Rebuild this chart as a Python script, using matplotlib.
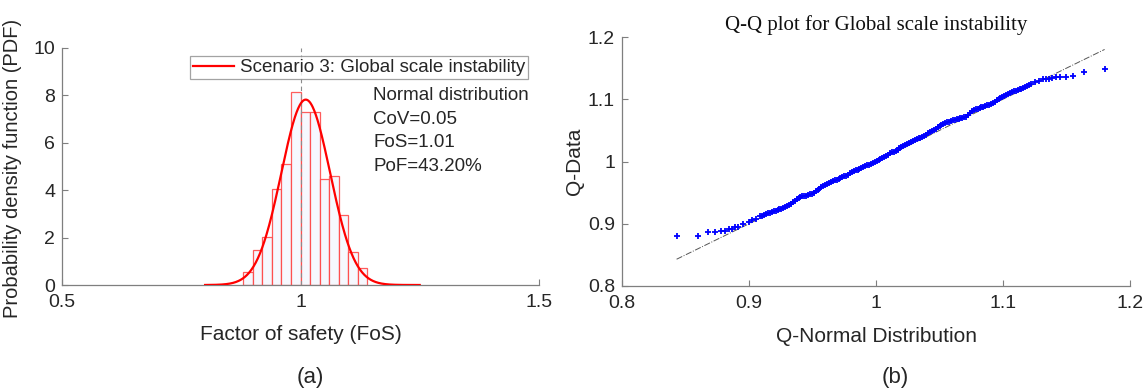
import numpy as np
import matplotlib
matplotlib.use("Agg")
import matplotlib.pyplot as plt

# ---- DATA ----
# (a) histogram of factor of safety, normalised as pdf
bin_edges = [0.88, 0.90, 0.92, 0.94, 0.96, 0.98, 1.00, 1.02, 1.04, 1.06, 1.08, 1.10, 1.12, 1.14]
pdf_values = [0.54, 1.46, 2.01, 4.05, 5.10, 8.13, 7.31, 7.31, 4.46, 4.60, 2.95, 1.41, 0.73]
fit_mean = 1.011          # fitted normal distribution
fit_std = 0.051
fit_range = (0.80, 1.25)
legend_label = "Scenario 3: Global scale instability"
stats_lines = ["Normal distribution", "CoV=0.05", "FoS=1.01", "PoF=43.20%"]

# (b) Q-Q plot: theoretical normal quantile vs data quantile
qq_x = [0.843, 0.8595, 0.8678, 0.8734, 0.8778, 0.8813, 0.8843, 0.887, 0.8893, 0.8914,
        0.8951, 0.8997, 0.9025, 0.9058,
        0.909, 0.9105, 0.912, 0.9135, 0.915, 0.9165, 0.918, 0.9195, 0.921, 0.9225,
        0.924, 0.9255, 0.927, 0.9285, 0.930, 0.9315, 0.933, 0.9345, 0.936, 0.9375,
        0.939, 0.9405, 0.942, 0.9435, 0.945, 0.9465, 0.948, 0.9495, 0.951, 0.9525,
        0.954, 0.9555, 0.957, 0.9585, 0.960, 0.9615, 0.963, 0.9645, 0.966, 0.9675,
        0.969, 0.9705, 0.972, 0.9735, 0.975, 0.9765, 0.978, 0.9795, 0.981, 0.9825,
        0.984, 0.9855, 0.987, 0.9885, 0.990, 0.9915, 0.993, 0.9945, 0.996, 0.9975,
        0.999, 1.0005, 1.002, 1.0035, 1.005, 1.0065, 1.008, 1.0095, 1.011, 1.0125,
        1.014, 1.0155, 1.017, 1.0185, 1.020, 1.0215, 1.023, 1.0245, 1.026, 1.0275,
        1.029, 1.0305, 1.032, 1.0335, 1.035, 1.0365, 1.038, 1.0395, 1.041, 1.0425,
        1.044, 1.0455, 1.047, 1.0485, 1.050, 1.0515, 1.053, 1.0545, 1.056, 1.0575,
        1.059, 1.0605, 1.062, 1.0635, 1.065, 1.0665, 1.068, 1.0695, 1.071, 1.0725,
        1.074, 1.0755, 1.077, 1.0785, 1.080, 1.0815, 1.083, 1.0845, 1.086, 1.0875,
        1.089, 1.0905, 1.092, 1.0935, 1.095, 1.0965, 1.098, 1.0995, 1.101, 1.1025,
        1.104, 1.1055, 1.107, 1.1085, 1.110, 1.1115, 1.113, 1.1145, 1.116, 1.1175,
        1.119, 1.1205, 1.122,
        1.125, 1.128, 1.1316, 1.1337, 1.136, 1.1387, 1.1417, 1.1452, 1.1496,
        1.1552, 1.1635, 1.180]
qq_y = [0.881, 0.881, 0.886, 0.886, 0.888, 0.889, 0.891, 0.892, 0.894, 0.895,
        0.899, 0.903, 0.906, 0.908,
        0.912, 0.913, 0.914, 0.9155, 0.917, 0.918, 0.919, 0.920, 0.921, 0.922,
        0.923, 0.924, 0.925, 0.9265, 0.928, 0.930, 0.932, 0.9345, 0.937, 0.939,
        0.941, 0.9425, 0.944, 0.9445, 0.945, 0.946, 0.947, 0.9485, 0.950, 0.952,
        0.954, 0.9565, 0.959, 0.9605, 0.962, 0.964, 0.966, 0.9675, 0.969, 0.970,
        0.971, 0.972, 0.973, 0.9745, 0.976, 0.9775, 0.979, 0.981, 0.983, 0.9845,
        0.986, 0.987, 0.988, 0.9895, 0.991, 0.9925, 0.994, 0.995, 0.996, 0.9975,
        0.999, 1.001, 1.003, 1.0045, 1.006, 1.0075, 1.009, 1.011, 1.013, 1.0145,
        1.016, 1.0175, 1.019, 1.021, 1.023, 1.0245, 1.026, 1.0275, 1.029, 1.031,
        1.033, 1.0345, 1.036, 1.037, 1.038, 1.0395, 1.041, 1.043, 1.045, 1.047,
        1.049, 1.051, 1.053, 1.055, 1.057, 1.059, 1.061, 1.062, 1.063, 1.064,
        1.065, 1.066, 1.067, 1.068, 1.069, 1.0695, 1.070, 1.071, 1.072, 1.075,
        1.078, 1.0805, 1.083, 1.084, 1.085, 1.086, 1.087, 1.088, 1.089, 1.090,
        1.091, 1.0925, 1.094, 1.096, 1.098, 1.100, 1.102, 1.1035, 1.105, 1.107,
        1.109, 1.1105, 1.112, 1.113, 1.114, 1.115, 1.116, 1.117, 1.118, 1.1195,
        1.121, 1.123, 1.125,
        1.128, 1.130, 1.132, 1.133, 1.133, 1.134, 1.135, 1.135, 1.136,
        1.138, 1.143, 1.148]

# ---- STYLE ----
TXT = '#262626'
AX = '#7f7f7f'
plt.rcParams['font.family'] = ['Liberation Sans', 'DejaVu Sans']

fig = plt.figure(figsize=(11.47, 3.9), dpi=100)
ax1 = fig.add_axes([62 / 1147, 105 / 390, 477 / 1147, 237 / 390])
ax2 = fig.add_axes([622 / 1147, 104 / 390, 508 / 1147, 249 / 390])

def style_axes(ax):
    for s in ['top', 'right']:
        ax.spines[s].set_visible(False)
    for s in ['left', 'bottom']:
        ax.spines[s].set_color(AX)
        ax.spines[s].set_linewidth(0.9)
    ax.tick_params(direction='in', length=4, width=0.8, color=AX,
                   labelsize=14, labelcolor=TXT)
    ax.tick_params(axis='x', pad=6.5)
    ax.tick_params(axis='y', pad=5)

# ---- (a) histogram + normal fit ----
widths = np.diff(bin_edges)
ax1.bar(bin_edges[:-1], pdf_values, width=widths, align='edge',
        facecolor='#f6f8fe', edgecolor=(1, 0.25, 0.25, 0.85), linewidth=0.9, zorder=2)
xs = np.linspace(fit_range[0], fit_range[1], 400)
pdf = np.exp(-0.5 * ((xs - fit_mean) / fit_std) ** 2) / (fit_std * np.sqrt(2 * np.pi))
ax1.plot(xs, pdf, color='#ff0000', lw=1.6, zorder=4, label=legend_label)
ax1.axvline(1.0, color='#8c8c8c', ls='--', lw=0.8, dashes=(4, 3), zorder=3)

ax1.set_xlim(0.5, 1.5)
ax1.set_ylim(0, 10)
ax1.set_xticks([0.5, 1.0, 1.5])
ax1.set_xticklabels(['0.5', '1', '1.5'])
ax1.set_yticks([0, 2, 4, 6, 8, 10])
style_axes(ax1)
ax1.set_xlabel("Factor of safety (FoS)", fontsize=15, color=TXT)
ax1.set_ylabel("Probability density function (PDF)", fontsize=14.5, color=TXT)
ax1.xaxis.set_label_coords(0.5, -0.17)
ax1.yaxis.set_label_coords(-0.083, 0.49)

leg = ax1.legend(loc='upper right', bbox_to_anchor=(0.977, 0.965), borderaxespad=0,
                 fontsize=13.5, frameon=True, fancybox=False, handlelength=2.2,
                 handletextpad=0.3, borderpad=0.15)
leg.get_frame().set_edgecolor('#8c8c8c')
leg.get_frame().set_linewidth(0.9)
for t in leg.get_texts():
    t.set_color(TXT)

for i, line in enumerate(stats_lines):
    ax1.text(1.152, 8 - i, line, fontsize=13.5, color=TXT, va='center', ha='left')

# ---- (b) Q-Q plot ----
ax2.plot([qq_x[0], qq_x[-1]], [qq_x[0], qq_x[-1]], color='#555555', ls='-.', lw=0.7, zorder=2)
ax2.plot(qq_x, qq_y, ls='none', marker='+', color='#0000ff', markersize=5, mew=1.3, zorder=3)
ax2.set_xlim(0.8, 1.2)
ax2.set_ylim(0.8, 1.2)
ax2.set_xticks([0.8, 0.9, 1.0, 1.1, 1.2])
ax2.set_xticklabels(['0.8', '0.9', '1', '1.1', '1.2'])
ax2.set_yticks([0.8, 0.9, 1.0, 1.1, 1.2])
ax2.set_yticklabels(['0.8', '0.9', '1', '1.1', '1.2'])
style_axes(ax2)
ax2.set_xlabel("Q-Normal Distribution", fontsize=15, color=TXT)
ax2.set_ylabel("Q-Data", fontsize=15, color=TXT)
ax2.xaxis.set_label_coords(0.5, -0.165)
ax2.yaxis.set_label_coords(-0.075, 0.5)
ax2.set_title("Q-Q plot for Global scale instability", fontsize=15,
              family=['Liberation Serif', 'DejaVu Serif'], color='#111111', pad=5)

# panel captions
fig.text(310 / 1147, 1 - 378 / 390, "(a)", fontsize=16, color=TXT, ha='center', va='center')
fig.text(895 / 1147, 1 - 378 / 390, "(b)", fontsize=16, color=TXT, ha='center', va='center')

fig.savefig("out.png", dpi=100)
